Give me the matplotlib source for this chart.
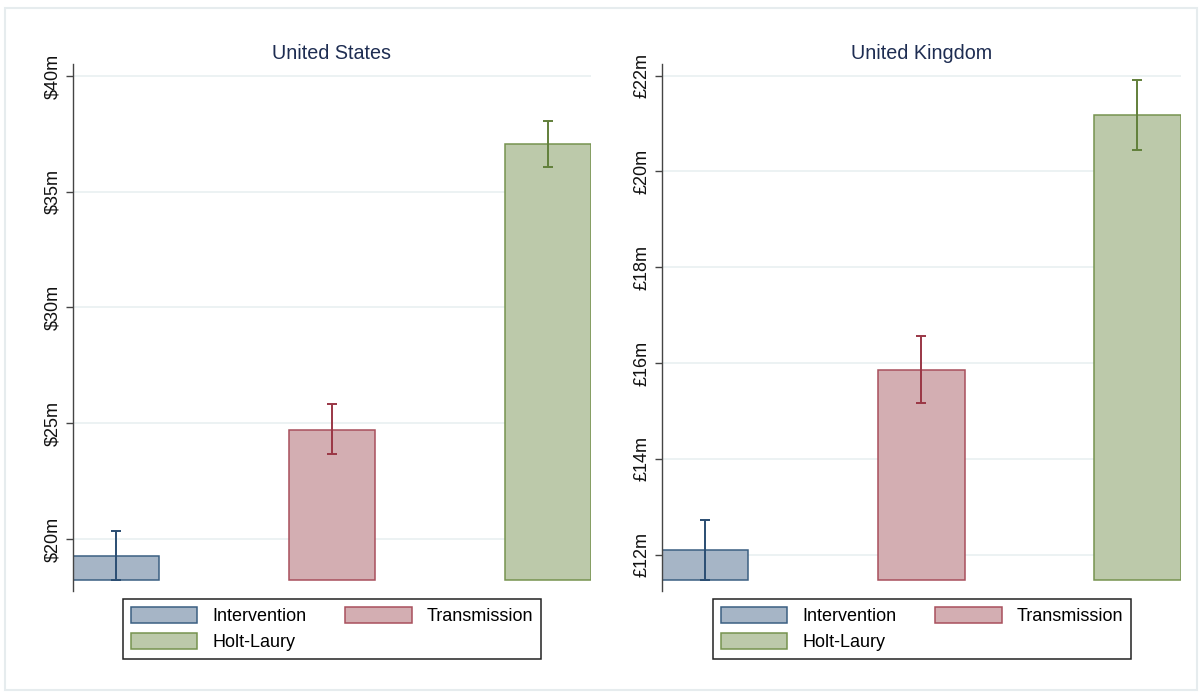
import matplotlib
matplotlib.use("Agg")
import matplotlib.pyplot as plt
from matplotlib.patches import Patch, Rectangle

plt.rcParams["font.family"] = ["Liberation Sans", "DejaVu Sans"]

# Data
groups = ["Intervention", "Transmission", "Holt-Laury"]

us_title = "United States"
us_mean = [19.27, 24.72, 37.07]
us_lo = [18.22, 23.67, 36.07]
us_hi = [20.33, 25.82, 38.06]
us_ticks = [20, 25, 30, 35, 40]
us_ticklabels = ["$20m", "$25m", "$30m", "$35m", "$40m"]

uk_title = "United Kingdom"
uk_mean = [12.09, 15.86, 21.17]
uk_lo = [11.47, 15.17, 20.44]
uk_hi = [12.73, 16.56, 21.91]
uk_ticks = [12, 14, 16, 18, 20, 22]
uk_ticklabels = ["£12m", "£14m", "£16m", "£18m", "£20m", "£22m"]

fills = ["#a6b5c6", "#d3aeb2", "#bcc9aa"]
edges = ["#3b5f82", "#a8505c", "#76934f"]
errcols = ["#2a4d72", "#9a3645", "#617f3a"]

W, H = 1202, 693
fig = plt.figure(figsize=(W / 100, H / 100), dpi=100)
fig.patch.set_facecolor("white")

# light outer frame
fig.patches.append(Rectangle((5 / W, 1 - 690 / H), (1197 - 5) / W, (690 - 8) / H,
                             transform=fig.transFigure, fill=False,
                             edgecolor="#e6ecee", linewidth=1.5, zorder=0))

AX_H = 591 - 64.3


def panel(left_px, title, mean, lo, hi, ticks, ticklabels, ylim):
    ax = fig.add_axes([left_px / W, 1 - 591 / H, 518.6 / W, AX_H / H])
    base = min(lo)
    x = list(range(len(groups)))
    for i in x:
        ax.bar(i, mean[i] - base, bottom=base, width=0.4, color=fills[i],
               edgecolor=edges[i], linewidth=1.1, zorder=2)
        ax.errorbar(i, mean[i], yerr=[[mean[i] - lo[i]], [hi[i] - mean[i]]],
                    fmt="none", ecolor=errcols[i], elinewidth=1.4,
                    capsize=3.3, capthick=1.4, zorder=3)
    ax.set_xlim(-0.2, 2.2)
    ax.set_ylim(*ylim)
    ax.set_yticks(ticks)
    ax.set_yticklabels(ticklabels, rotation=90, va="center", fontsize=13)
    ax.tick_params(axis="y", length=5, width=1.0, color="#444444", pad=3.5,
                   labelcolor="#111111")
    ax.set_xticks([])
    for s in ["top", "right", "bottom"]:
        ax.spines[s].set_visible(False)
    ax.spines["left"].set_color("#444444")
    ax.spines["left"].set_linewidth(1.0)
    ax.yaxis.grid(True, color="#eaf1f2", linewidth=1.3, zorder=0)
    ax.set_axisbelow(True)
    ax.text(0.5, 1 + 5.5 / AX_H, title, transform=ax.transAxes, ha="center",
            va="baseline", fontsize=14.2, color="#1e2d52")
    return ax


panel(72.7, us_title, us_mean, us_lo, us_hi, us_ticks, us_ticklabels, (17.754, 40.505))
panel(662.0, uk_title, uk_mean, uk_lo, uk_hi, uk_ticks, uk_ticklabels, (11.242, 22.238))

# legend entries laid out row by row: Intervention, Transmission / Holt-Laury
order = [0, 2, 1]
handles = [Patch(facecolor=fills[i], edgecolor=edges[i], linewidth=1.1) for i in order]
labels = [groups[i] for i in order]
for lx in (123, 713):
    leg = fig.legend(handles, labels, loc="upper left",
                     bbox_to_anchor=(lx / W, 1 - 599 / H), ncol=2, fontsize=13,
                     frameon=True, fancybox=False, framealpha=1,
                     edgecolor="#222222", borderaxespad=0, borderpad=0.42,
                     handlelength=3.7, handleheight=0.98, handletextpad=0.85,
                     columnspacing=2.1, labelspacing=0.45)
    leg.get_frame().set_linewidth(1.1)

fig.savefig("out.png", dpi=100)
